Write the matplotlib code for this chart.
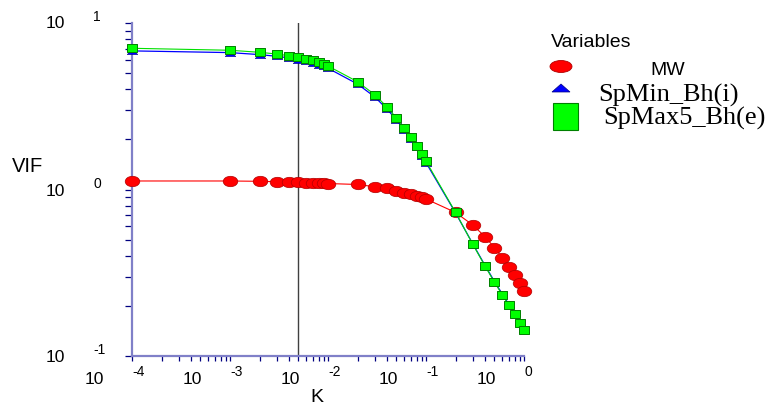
import numpy as np
import matplotlib
matplotlib.use('Agg')
import matplotlib.pyplot as plt
from matplotlib.path import Path
from matplotlib.transforms import Affine2D, blended_transform_factory, ScaledTranslation
from matplotlib.patches import Ellipse, Polygon, Rectangle

# ---------------- data ----------------
K = [0.0001, 0.001, 0.002, 0.003, 0.004, 0.005, 0.006, 0.007, 0.008, 0.009,
     0.01, 0.02, 0.03, 0.04, 0.05, 0.06, 0.07, 0.08, 0.09,
     0.1, 0.2, 0.3, 0.4, 0.5, 0.6, 0.7, 0.8, 0.9, 1.0]
MW = [1.125, 1.125, 1.120, 1.114, 1.109, 1.105, 1.100, 1.097, 1.094, 1.089,
      1.086, 1.072, 1.039, 1.014, 0.982, 0.957, 0.937, 0.918, 0.898,
      0.877, 0.728, 0.612, 0.521, 0.447, 0.389, 0.344, 0.306, 0.273, 0.246]
SpMin = [6.80, 6.64, 6.46, 6.31, 6.17, 6.03, 5.89, 5.78, 5.63, 5.48,
         5.35, 4.30, 3.60, 3.04, 2.62, 2.27, 2.02, 1.79, 1.60,
         1.45, 0.725, 0.472, 0.350, 0.280, 0.236, 0.204, 0.180, 0.160, 0.145]
SpMax5 = [7.05, 6.86, 6.67, 6.51, 6.36, 6.22, 6.08, 5.96, 5.81, 5.65,
          5.52, 4.44, 3.71, 3.13, 2.69, 2.33, 2.07, 1.83, 1.63,
          1.48, 0.730, 0.469, 0.347, 0.277, 0.233, 0.2016, 0.178, 0.158, 0.143]
series_names = ["MW", "SpMin_Bh(i)", "SpMax5_Bh(e)"]
x_exponents = [-4, -3, -2, -1, 0]
y_exponents = [1, 0, -1]
K_line = 0.005

W, H = 767, 407
fig = plt.figure(figsize=(W / 100, H / 100), dpi=100)
ax = fig.add_axes([132 / W, (H - 356) / H, 392 / W, 333 / H])
ax.set_xscale('log')
ax.set_yscale('log')
ax.set_xlim(1e-4, 1)
ax.set_ylim(0.1, 10)

# custom markers
ell = Path.unit_circle().transformed(Affine2D().scale(1.4, 1.0))
sq = Path([(-1, -0.8), (1, -0.8), (1, 0.8), (-1, 0.8), (-1, -0.8)],
          [Path.MOVETO, Path.LINETO, Path.LINETO, Path.LINETO, Path.CLOSEPOLY])
tri = Path([(-1, -0.6), (1, -0.6), (0, 0.6), (-1, -0.6)],
           [Path.MOVETO, Path.LINETO, Path.LINETO, Path.CLOSEPOLY])

ax.plot(K, MW, color='#ff0000', lw=0.8, marker=ell, markersize=10.5,
        markerfacecolor='#ff0000', markeredgecolor='#b00000', markeredgewidth=0.5,
        zorder=3, clip_on=False)
ax.plot(K, SpMin, color='#0000ff', lw=0.9, marker=tri, markersize=7.5,
        markerfacecolor='#0000ff', markeredgecolor='#000080', markeredgewidth=0.4,
        zorder=4, clip_on=False)
ax.plot(K, SpMax5, color='#00e000', lw=0.8, marker=sq, markersize=7.4,
        markerfacecolor='#00ff00', markeredgecolor='#008000', markeredgewidth=0.7,
        zorder=5, clip_on=False)

ax.axvline(K_line, color='#404040', lw=1.0, zorder=2)

# spines / ticks
for s in ['top', 'right']:
    ax.spines[s].set_visible(False)
for s in ['left', 'bottom']:
    ax.spines[s].set_color('#8080c8')
    ax.spines[s].set_linewidth(1.6)
ax.tick_params(axis='y', which='both', direction='out', length=5, width=0.9,
               color='#000080', labelleft=False)
ax.tick_params(axis='x', which='both', direction='out', length=3.6, width=0.9,
               color='#000080', labelbottom=False)
ax.xaxis.set_minor_formatter(matplotlib.ticker.NullFormatter())
ax.yaxis.set_minor_formatter(matplotlib.ticker.NullFormatter())
ax.yaxis.set_minor_locator(matplotlib.ticker.LogLocator(base=10, subs=np.arange(2, 10)))
ax.xaxis.set_minor_locator(matplotlib.ticker.LogLocator(base=10, subs=np.arange(2, 10)))

sans = 'Liberation Sans'
serif = 'Liberation Serif'

def off(dx, dy):
    return ScaledTranslation(dx / 100, -dy / 100, fig.dpi_scale_trans)

# y tick labels
ytr = blended_transform_factory(fig.transFigure, ax.transData)
for e in y_exponents:
    v = 10.0 ** e
    extra = {1: 1, 0: 1.5, -1: 2}[e]
    fig.text(55 / W, v, '10', transform=ytr + off(0, extra), fontsize=12.6,
             family=sans, ha='center', va='center')
    fig.text(93 / W, v, str(e), transform=ytr + off(0, -6), fontsize=10,
             family=sans, ha='left', va='center')

# x tick labels
xtr = blended_transform_factory(ax.transData, fig.transFigure)
for e in x_exponents:
    v = 10.0 ** e
    fig.text(v, (H - 380) / H, '10', transform=xtr + off(-38, 0), fontsize=12.6,
             family=sans, ha='center', va='center')
    fig.text(v, (H - 372) / H, str(e), transform=xtr + off(0, 0), fontsize=10,
             family=sans, ha='left', va='center')

fig.text(317 / W, (H - 398) / H, 'K', fontsize=14, family=sans, ha='center', va='center')
fig.text(28 / W, (H - 166) / H, 'VIF', fontsize=14.5, family=sans, ha='center', va='center')

# legend (drawn manually)
def P(x, y):
    return (x / W, (H - y) / H)

fig.text(*P(551, 47), 'Variables', fontsize=14, family=sans, ha='left', va='baseline')
fig.patches.append(Ellipse(P(561, 66.5), 22 / W, 12 / H, transform=fig.transFigure,
                           facecolor='#ff0000', edgecolor='#b00000', lw=0.6))
fig.text(*P(650, 75), series_names[0], fontsize=14, family=sans, ha='left', va='baseline')
fig.patches.append(Polygon([P(552, 92), P(570, 92), P(561, 84)], closed=True,
                           transform=fig.transFigure, facecolor='#0000ff',
                           edgecolor='#000080', lw=0.5))
fig.text(*P(598, 102), series_names[1], fontsize=19, family=serif, ha='left', va='baseline')
fig.patches.append(Rectangle(P(553, 130), 25 / W, 27 / H, transform=fig.transFigure,
                             facecolor='#00ff00', edgecolor='#008000', lw=0.8))
fig.text(*P(603, 125), series_names[2], fontsize=19, family=serif, ha='left', va='baseline')

fig.savefig('out.png', dpi=100)
